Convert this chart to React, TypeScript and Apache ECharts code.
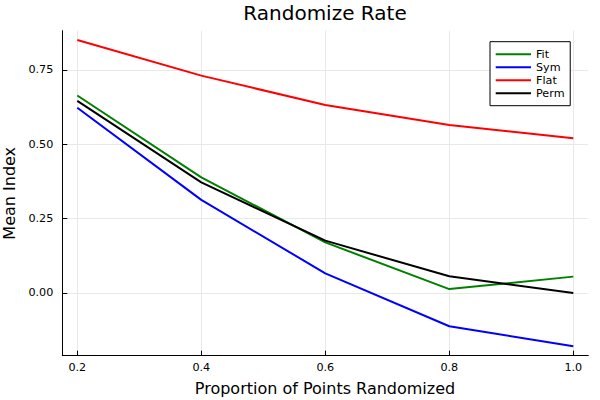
import React, { useEffect, useRef } from "react";
import * as echarts from "echarts";

const xValues = [0.2, 0.4, 0.6, 0.8, 1.0];
const fitValues = [0.664, 0.389, 0.17, 0.013, 0.055];
const symValues = [0.623, 0.313, 0.066, -0.112, -0.179];
const flatValues = [0.851, 0.731, 0.632, 0.565, 0.52];
const permValues = [0.646, 0.372, 0.176, 0.056, 0.0];
const xTicks = [0.2, 0.4, 0.6, 0.8, 1.0];
const yTicks = [0, 0.25, 0.5, 0.75];

const FONT = "DejaVu Sans";

export default function App() {
  const ref = useRef<HTMLDivElement>(null);
  useEffect(() => {
    document.body.style.margin = "0";
    const chart = echarts.init(ref.current!, null, { renderer: "svg" });
    const mk = (name: string, vals: number[], color: string) => ({
      name,
      type: "line",
      data: xValues.map((x, i) => [x, vals[i]]),
      symbol: "none",
      showSymbol: false,
      lineStyle: { color, width: 2 },
      itemStyle: { color },
      z: 3,
    });
    chart.setOption({
      animation: false,
      backgroundColor: "#ffffff",
      textStyle: { fontFamily: FONT },
      grid: { left: 62.3, right: 11.7, top: 30.7, bottom: 44.3, containLabel: false },
      xAxis: {
        type: "value",
        min: 0.1758,
        max: 1.0242,
        axisLine: { show: true, onZero: false, lineStyle: { color: "#000", width: 1 } },
        axisTick: { show: true, inside: true, length: 5, customValues: xTicks, lineStyle: { color: "#000" } },
        axisLabel: {
          customValues: xTicks,
          formatter: (v: number) => v.toFixed(1),
          fontSize: 11.2,
          color: "#000",
          fontFamily: FONT,
          margin: 6,
        },
        splitLine: { show: true, lineStyle: { color: "#e8e8e8", width: 1 } },
      },
      yAxis: {
        type: "value",
        min: -0.2109,
        max: 0.882,
        axisLine: { show: true, onZero: false, lineStyle: { color: "#000", width: 1 } },
        axisTick: { show: true, inside: true, length: 5, customValues: yTicks, lineStyle: { color: "#000" } },
        axisLabel: {
          customValues: yTicks,
          formatter: (v: number) => v.toFixed(2),
          fontSize: 11.2,
          color: "#000",
          fontFamily: FONT,
          margin: 9,
        },
        splitLine: { show: true, lineStyle: { color: "#e8e8e8", width: 1 } },
      },
      legend: {
        orient: "vertical",
        left: 490,
        top: 41.7,
        padding: [6, 5.7, 6, 5.7],
        itemGap: 0,
        itemWidth: 35.3,
        itemHeight: 2,
        icon: "rect",
        borderColor: "#000",
        borderWidth: 1,
        borderRadius: 0,
        backgroundColor: "#fff",
        textStyle: { fontSize: 11.2, lineHeight: 13, color: "#000", fontFamily: FONT, padding: 0 },
        data: ["Fit", "Sym", "Flat", "Perm"],
      },
      graphic: [
        {
          type: "text",
          x: 325,
          y: 12.5,
          style: { text: "Randomize Rate", fontSize: 20, fontFamily: FONT, fill: "#000", align: "center", verticalAlign: "middle" },
        },
        {
          type: "text",
          x: 325,
          y: 388.5,
          style: { text: "Proportion of Points Randomized", fontSize: 16, fontFamily: FONT, fill: "#000", align: "center", verticalAlign: "middle" },
        },
        {
          type: "text",
          x: 9.3,
          y: 193.3,
          rotation: Math.PI / 2,
          style: { text: "Mean Index", fontSize: 16, fontFamily: FONT, fill: "#000", align: "center", verticalAlign: "middle" },
        },
      ],
      series: [
        mk("Fit", fitValues, "#008000"),
        mk("Sym", symValues, "#0000ff"),
        mk("Flat", flatValues, "#ff0000"),
        mk("Perm", permValues, "#000000"),
      ],
    });
    return () => chart.dispose();
  }, []);
  return <div ref={ref} style={{ width: 600, height: 400 }} />;
}
